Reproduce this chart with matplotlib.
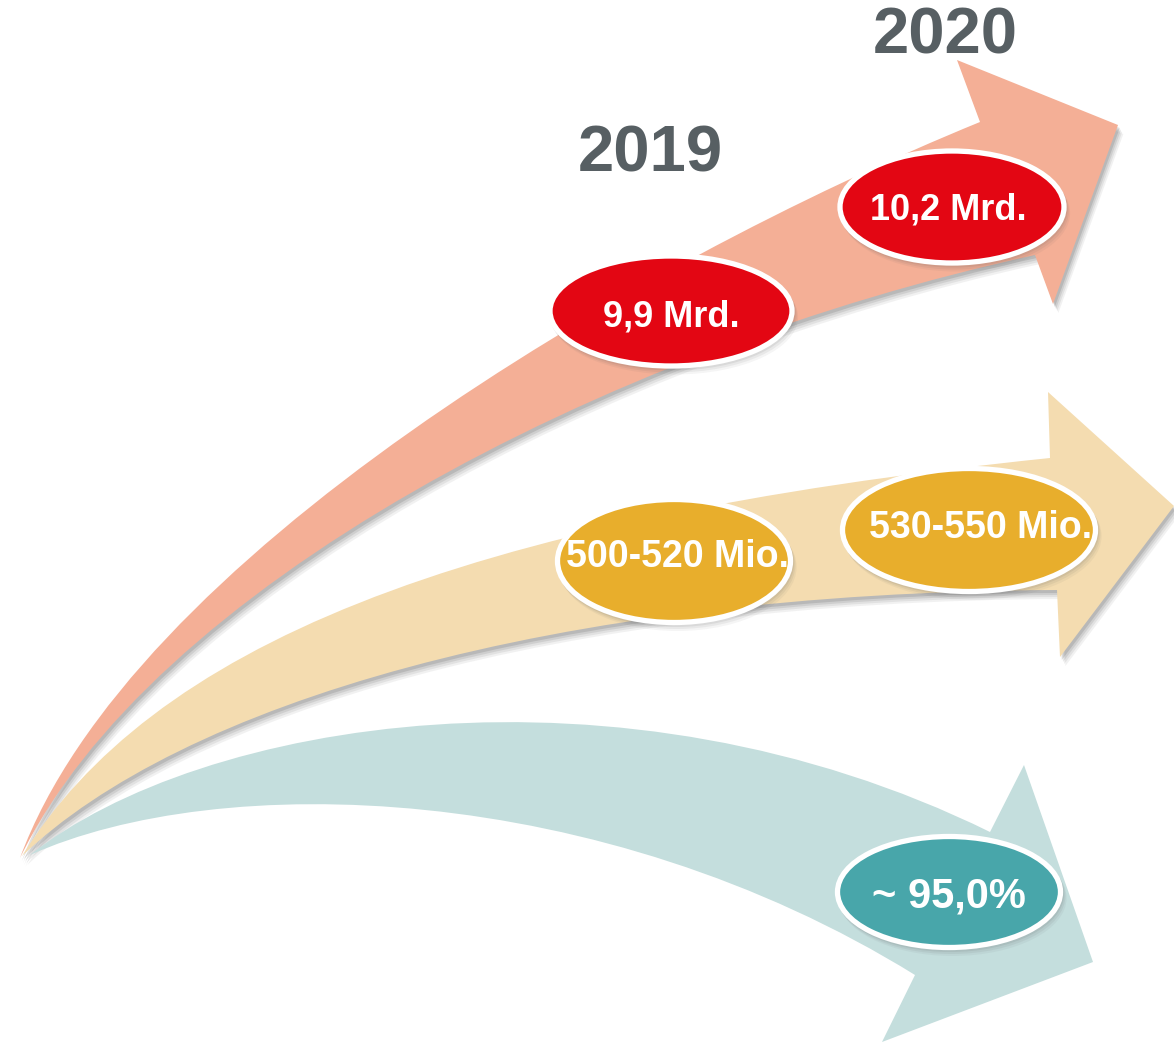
import matplotlib
matplotlib.use("Agg")
import matplotlib.pyplot as plt
from matplotlib.path import Path
from matplotlib.patches import PathPatch, Ellipse

plt.rcParams['font.family'] = ['Liberation Sans', 'DejaVu Sans']

# Data
years = ["2019", "2020"]
revenue_labels = ["9,9 Mrd.", "10,2 Mrd."]
visitor_labels = ["500-520 Mio.", "530-550 Mio."]
share_labels = ["~ 95,0%"]

# Colours
arrow_colors = ["#F4AF96", "#F4DCB0", "#C4DEDD"]
badge_colors = ["#E30613", "#E8AE2C", "#48A6AA"]
year_color = "#575F63"

# Arrow geometry in pixel space (y down):
# tip, upper bezier controls, upper notch, head points, lower notch, lower bezier controls
arrows = [
    dict(tip=(20, 858), up=[(130, 560), (630, 265)], nu=(980, 122),
         head=[(957, 60), (1118, 125), (1053, 304)], nl=(1035, 255),
         lo=[(600, 350), (150, 590)], shadow=True),
    dict(tip=(22, 856), up=[(150, 650), (450, 520)], nu=(1050, 458),
         head=[(1048, 392), (1174, 506), (1060, 657)], nl=(1057, 590),
         lo=[(550, 592), (180, 705)], shadow=True),
    dict(tip=(30, 855), up=[(200, 720), (620, 650)], nu=(990, 832),
         head=[(1024, 765), (1093, 962), (882, 1042)], nl=(915, 975),
         lo=[(600, 780), (220, 770)], shadow=False),
]

# badges: (row, x, y, w, h, text dx, text dy, fontsize)
badges = [
    (0, 671, 311, 242, 110, 0, 6, 26),
    (0, 952, 207, 224, 112, -4, 3, 26),
    (1, 674, 561, 233, 123, 3, -4, 27),
    (1, 969, 530, 253, 123, 12, -2, 27),
    (2, 949, 892, 223, 111, 0, 5, 30),
]
badge_texts = [revenue_labels[0], revenue_labels[1],
               visitor_labels[0], visitor_labels[1], share_labels[0]]

year_pos = [(650, 155), (945, 37)]


def arrow_path(a, dx=0, dy=0):
    pts = [a["tip"], *a["up"], a["nu"], *a["head"], a["nl"], *a["lo"], a["tip"], a["tip"]]
    pts = [(x + dx, y + dy) for x, y in pts]
    codes = [Path.MOVETO, Path.CURVE4, Path.CURVE4, Path.CURVE4,
             Path.LINETO, Path.LINETO, Path.LINETO, Path.LINETO,
             Path.CURVE4, Path.CURVE4, Path.CURVE4, Path.CLOSEPOLY]
    return Path(pts, codes)


fig = plt.figure(figsize=(11.74, 10.42), dpi=100)
ax = fig.add_axes([0, 0, 1, 1])
ax.set_xlim(0, 1174)
ax.set_ylim(1042, 0)
ax.axis("off")

for i, a in enumerate(arrows):
    if a["shadow"]:
        for k, al in zip([9, 7, 5, 3], [0.08, 0.10, 0.13, 0.18]):
            ax.add_patch(PathPatch(arrow_path(a, k * 0.6, k), facecolor="#555555",
                                   edgecolor="none", alpha=al, zorder=1 + i * 2))
    ax.add_patch(PathPatch(arrow_path(a), facecolor=arrow_colors[i],
                           edgecolor="none", zorder=2 + i * 2))

for (row, x, y, w, h, tdx, tdy, fs), txt in zip(badges, badge_texts):
    for k, al in zip([6, 4, 2], [0.06, 0.08, 0.1]):
        ax.add_patch(Ellipse((x + k * 0.6, y + k), w + 5, h + 5, facecolor="#555555",
                             edgecolor="none", alpha=al, zorder=10))
    ax.add_patch(Ellipse((x, y), w, h, facecolor=badge_colors[row],
                         edgecolor="white", linewidth=3.8, zorder=11))
    ax.text(x + tdx, y + tdy, txt, color="white", fontsize=fs, fontweight="bold",
            ha="center", va="center", zorder=12)

for yr, (x, y) in zip(years, year_pos):
    ax.text(x, y, yr, color=year_color, fontsize=47, fontweight="bold",
            ha="center", va="center", zorder=12)

fig.savefig("out.png", dpi=100)
